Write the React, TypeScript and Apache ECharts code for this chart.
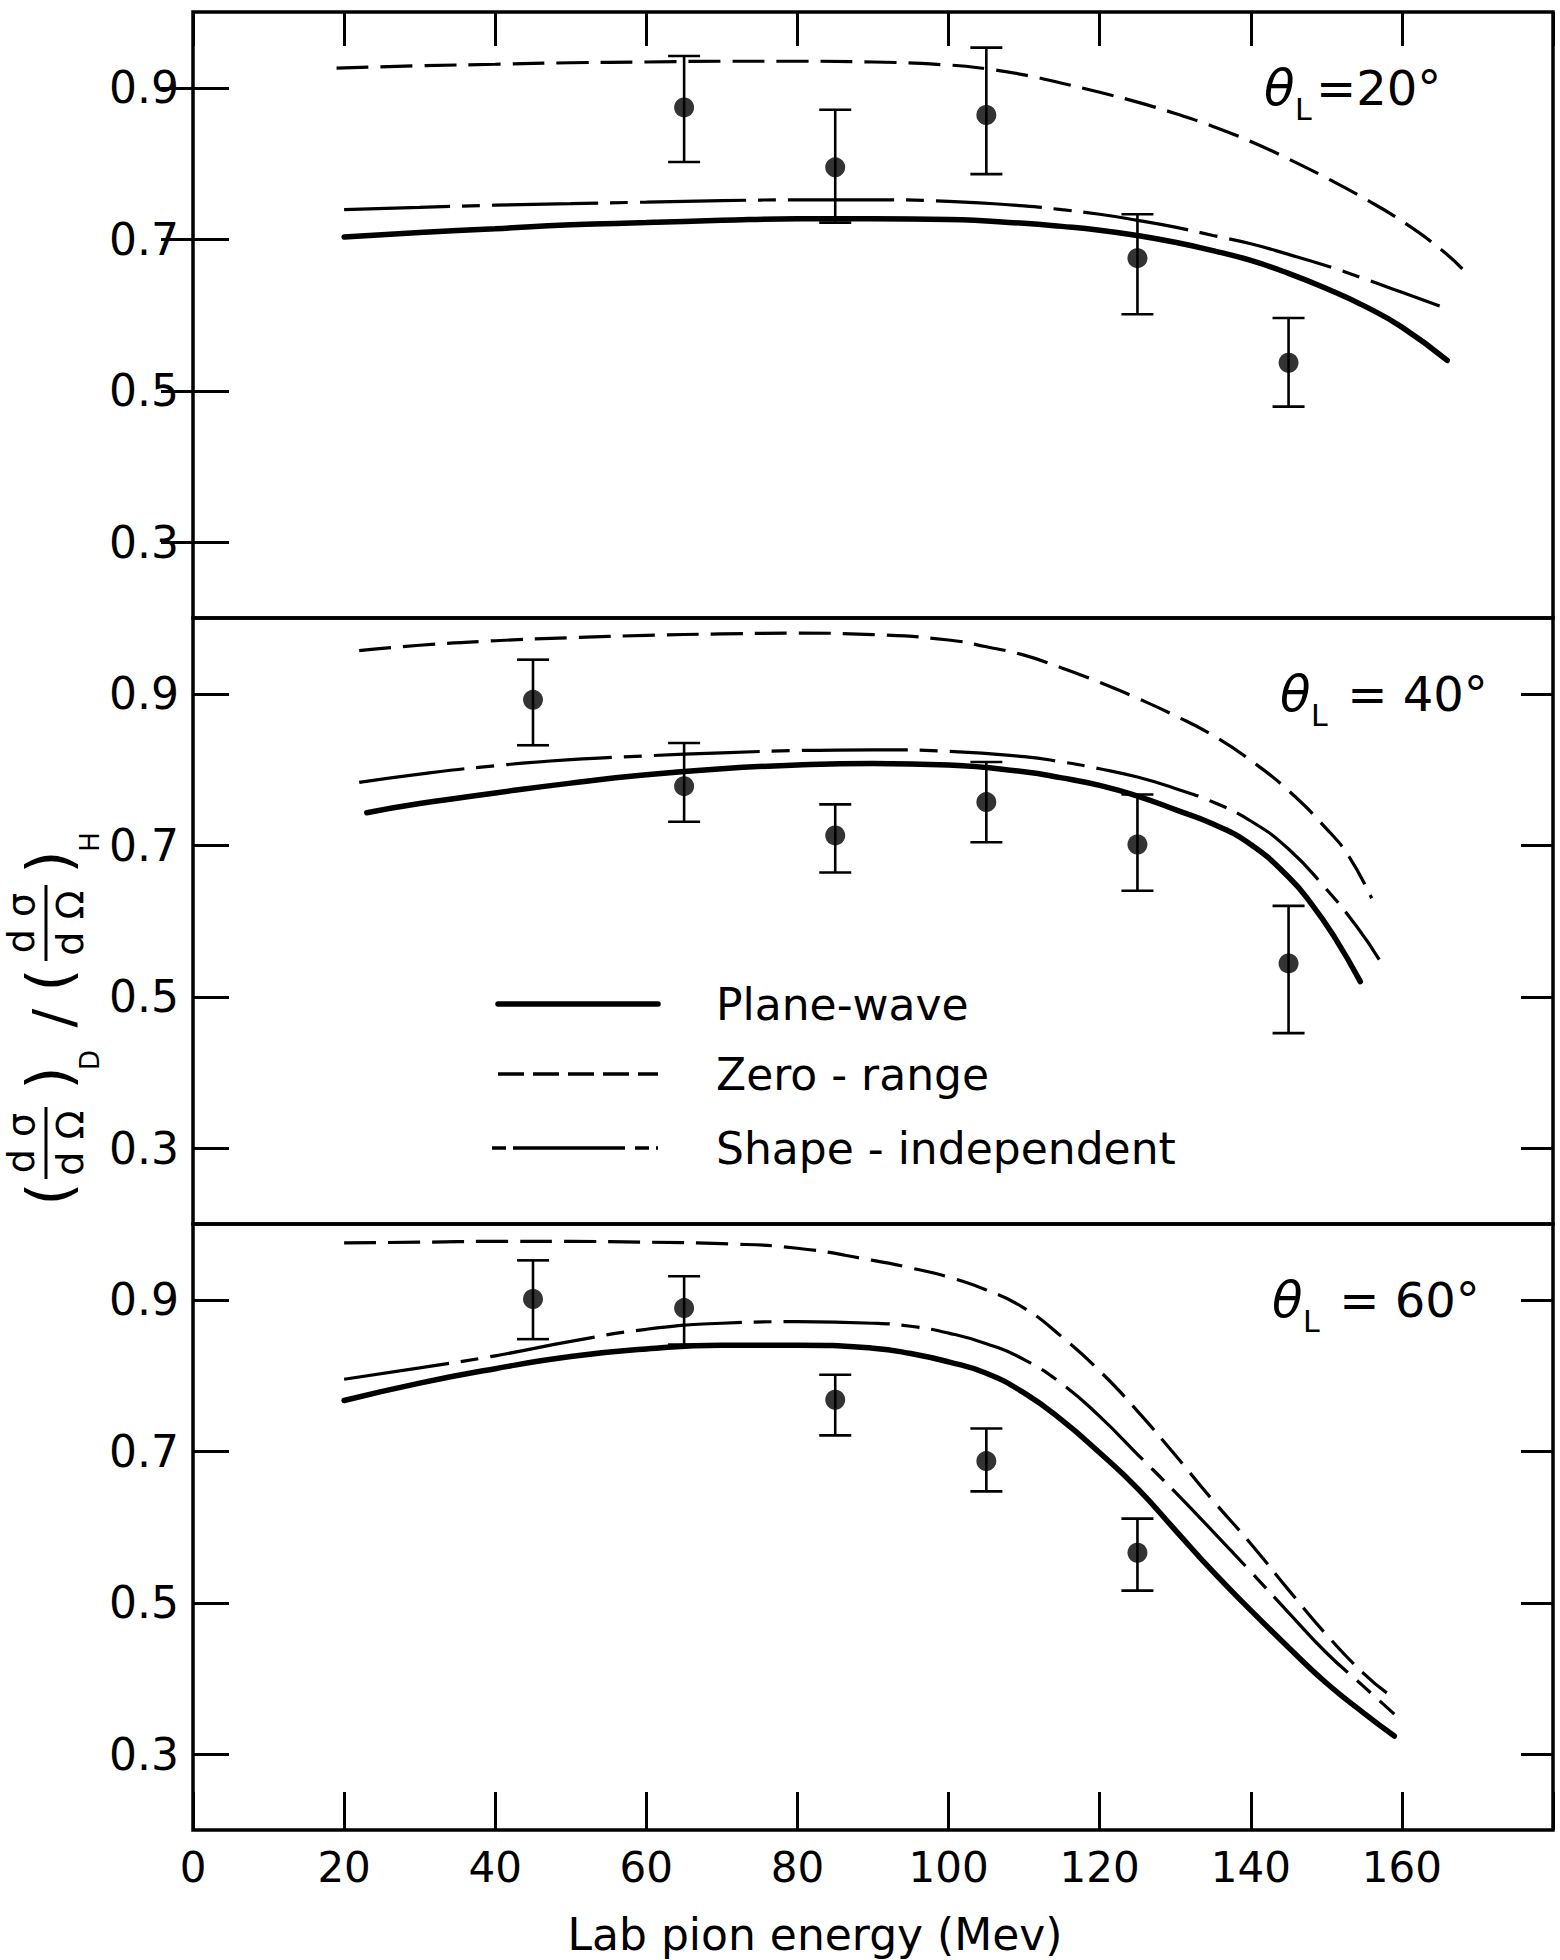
import React, { useEffect, useRef } from 'react';
import * as echarts from 'echarts';

// ---------- data ----------
const X_MIN = 0;
const X_MAX = 180;
const X_STEP = 20;
const Y_MIN = 0.2;
const Y_MAX = 1.0;
const Y_TICKS = [0.3, 0.5, 0.7, 0.9];

const MODEL_NAMES = ['Plane-wave', 'Zero - range', 'Shape - independent'];
const PANEL_LABELS = ['=20°', ' = 40°', ' = 60°'];
const X_TITLE = 'Lab pion energy (Mev)';

// theta_L = 20 deg
const pw20E = [20, 30, 40, 50, 60, 70, 80, 90, 100, 110, 115, 120, 125, 130, 135, 140, 145, 150, 155, 160, 166];
const pw20R = [0.703, 0.709, 0.714, 0.719, 0.722, 0.725, 0.727, 0.727, 0.726, 0.721, 0.717, 0.712, 0.705, 0.696, 0.685, 0.672, 0.655, 0.635, 0.612, 0.584, 0.54];
const zr20E = [19, 30, 40, 50, 60, 70, 80, 90, 100, 105, 110, 115, 120, 125, 130, 135, 140, 145, 150, 155, 160, 165, 168];
const zr20R = [0.926, 0.929, 0.931, 0.933, 0.934, 0.935, 0.935, 0.934, 0.93, 0.925, 0.917, 0.906, 0.894, 0.881, 0.866, 0.849, 0.829, 0.806, 0.781, 0.754, 0.724, 0.688, 0.661];
const si20E = [20, 30, 40, 50, 60, 70, 80, 90, 100, 110, 115, 120, 125, 130, 135, 140, 145, 150, 155, 160, 165];
const si20R = [0.739, 0.742, 0.745, 0.747, 0.749, 0.751, 0.752, 0.752, 0.75, 0.744, 0.739, 0.733, 0.725, 0.716, 0.705, 0.694, 0.68, 0.665, 0.648, 0.63, 0.612];
const exp20E = [65, 85, 105, 125, 145];
const exp20R = [0.874, 0.795, 0.864, 0.675, 0.537];
const exp20Lo = [0.802, 0.722, 0.786, 0.601, 0.479];
const exp20Hi = [0.942, 0.871, 0.953, 0.733, 0.596];

// theta_L = 40 deg
const pw40E = [23, 30, 40, 50, 60, 70, 80, 90, 100, 110, 115, 120, 125, 130, 135, 140, 145, 148, 151, 154.5];
const pw40R = [0.743, 0.755, 0.769, 0.782, 0.793, 0.801, 0.806, 0.808, 0.806, 0.797, 0.789, 0.779, 0.765, 0.747, 0.728, 0.701, 0.658, 0.623, 0.58, 0.52];
const zr40E = [22, 30, 40, 50, 60, 70, 80, 90, 100, 105, 110, 115, 120, 125, 130, 135, 140, 145, 150, 153, 156];
const zr40R = [0.957, 0.964, 0.97, 0.974, 0.977, 0.979, 0.98, 0.978, 0.971, 0.962, 0.951, 0.934, 0.915, 0.894, 0.871, 0.845, 0.812, 0.772, 0.722, 0.685, 0.63];
const si40E = [22, 30, 40, 50, 60, 70, 80, 90, 100, 110, 115, 120, 125, 130, 135, 140, 145, 150, 154, 157];
const si40R = [0.783, 0.794, 0.805, 0.813, 0.818, 0.822, 0.825, 0.826, 0.824, 0.817, 0.81, 0.801, 0.79, 0.775, 0.757, 0.732, 0.695, 0.642, 0.593, 0.549];
const exp40E = [45, 65, 85, 105, 125, 145];
const exp40R = [0.892, 0.778, 0.713, 0.757, 0.701, 0.544];
const exp40Lo = [0.832, 0.731, 0.664, 0.704, 0.64, 0.452];
const exp40Hi = [0.945, 0.835, 0.754, 0.81, 0.767, 0.62];

// theta_L = 60 deg
const pw60E = [20, 30, 40, 50, 60, 70, 80, 90, 95, 100, 105, 110, 115, 120, 125, 130, 135, 140, 145, 150, 155, 159];
const pw60R = [0.767, 0.79, 0.809, 0.825, 0.835, 0.84, 0.84, 0.836, 0.829, 0.818, 0.803, 0.777, 0.741, 0.698, 0.651, 0.596, 0.541, 0.49, 0.441, 0.394, 0.354, 0.324];
const zr60E = [20, 30, 40, 50, 60, 70, 80, 90, 95, 100, 105, 110, 115, 120, 125, 130, 135, 140, 145, 150, 155, 158];
const zr60R = [0.975, 0.976, 0.977, 0.977, 0.976, 0.974, 0.968, 0.952, 0.942, 0.93, 0.913, 0.889, 0.851, 0.806, 0.753, 0.695, 0.635, 0.578, 0.517, 0.458, 0.406, 0.381];
const si60E = [20, 30, 40, 50, 60, 70, 80, 90, 95, 100, 105, 110, 115, 120, 125, 130, 135, 140, 145, 150, 155, 159];
const si60R = [0.795, 0.81, 0.826, 0.845, 0.861, 0.869, 0.871, 0.869, 0.865, 0.856, 0.842, 0.821, 0.789, 0.746, 0.696, 0.646, 0.594, 0.541, 0.487, 0.434, 0.389, 0.353];
const exp60E = [45, 65, 85, 105, 125];
const exp60R = [0.901, 0.889, 0.768, 0.687, 0.566];
const exp60Lo = [0.848, 0.841, 0.721, 0.647, 0.516];
const exp60Hi = [0.952, 0.931, 0.801, 0.73, 0.611];

// ---------- layout ----------
const FONT = 'DejaVu Sans';
const GRID_LEFT = 193;
const GRID_WIDTH = 1360;
const GRID_TOP = 12;
const PANEL_H = 606;

const zip2 = (a: number[], b: number[]) => a.map((v, i) => [v, b[i]]);
const zip3 = (a: number[], b: number[], c: number[]) => a.map((v, i) => [v, b[i], c[i]]);

const PANELS = [
  { pw: zip2(pw20E, pw20R), zr: zip2(zr20E, zr20R), si: zip2(si20E, si20R), pts: zip2(exp20E, exp20R), err: zip3(exp20E, exp20Lo, exp20Hi) },
  { pw: zip2(pw40E, pw40R), zr: zip2(zr40E, zr40R), si: zip2(si40E, si40R), pts: zip2(exp40E, exp40R), err: zip3(exp40E, exp40Lo, exp40Hi) },
  { pw: zip2(pw60E, pw60R), zr: zip2(zr60E, zr60R), si: zip2(si60E, si60R), pts: zip2(exp60E, exp60R), err: zip3(exp60E, exp60Lo, exp60Hi) },
];

const PW_STYLE = { color: '#000', width: 5.5, type: 'solid' as any, cap: 'round' as any };
const ZR_STYLE = { color: '#000', width: 3.2, type: [32, 12] as any, cap: 'butt' as any };
const SI_STYLE = { color: '#000', width: 3.2, type: [106, 12, 18, 12] as any, cap: 'butt' as any };

function txt(x: number, y: number, text: string, size: number, extra: any = {}) {
  return {
    type: 'text',
    x,
    y,
    silent: true,
    style: {
      text,
      fontSize: size,
      fontFamily: FONT,
      fill: '#000',
      align: extra.align || 'left',
      textAlign: extra.align || 'left',
      verticalAlign: extra.va || 'middle',
      textVerticalAlign: extra.va || 'middle',
      fontStyle: extra.fontStyle || 'normal',
    },
  };
}

function fraction(cx: number, half: number) {
  return [
    txt(cx, -6, 'd σ', 38, { align: 'center', va: 'bottom' }),
    { type: 'line', silent: true, shape: { x1: cx - half, y1: 0, x2: cx + half, y2: 0 }, style: { stroke: '#000', lineWidth: 3 } },
    txt(cx, 5, 'd Ω', 38, { align: 'center', va: 'top' }),
  ];
}

function buildOption() {
  const grid = PANELS.map((_, i) => ({
    left: GRID_LEFT,
    width: GRID_WIDTH,
    top: GRID_TOP + i * PANEL_H,
    height: PANEL_H,
    show: true,
    borderColor: '#000',
    borderWidth: 3.5,
    backgroundColor: 'transparent',
  }));

  const xAxis: any[] = PANELS.map((_, i) => ({
    gridIndex: i,
    type: 'value',
    min: X_MIN,
    max: X_MAX,
    interval: X_STEP,
    position: 'bottom',
    axisLine: { show: false },
    splitLine: { show: false },
    axisTick: { show: i === 2, inside: true, length: 38, lineStyle: { color: '#000', width: 3 } },
    axisLabel: {
      show: i === 2,
      color: '#000',
      fontSize: 42,
      fontFamily: FONT,
      margin: 16,
      formatter: (v: number) => (v >= X_MAX ? '' : String(v)),
    },
  }));
  xAxis.push({
    gridIndex: 0,
    type: 'value',
    min: X_MIN,
    max: X_MAX,
    interval: X_STEP,
    position: 'top',
    axisLine: { show: false },
    splitLine: { show: false },
    axisTick: { show: true, inside: true, length: 34, lineStyle: { color: '#000', width: 3 } },
    axisLabel: { show: false },
  });

  const yAxis: any[] = [];
  PANELS.forEach((_, i) => {
    yAxis.push({
      gridIndex: i,
      type: 'value',
      min: Y_MIN,
      max: Y_MAX,
      position: 'left',
      axisLine: { show: false },
      splitLine: { show: false },
      axisTick: { show: true, inside: true, length: 36, customValues: Y_TICKS, lineStyle: { color: '#000', width: 3 } },
      axisLabel: {
        show: true,
        customValues: Y_TICKS,
        color: '#000',
        fontSize: 44,
        fontFamily: FONT,
        margin: 14,
        formatter: (v: number) => v.toFixed(1),
      },
    });
  });
  PANELS.forEach((_, i) => {
    yAxis.push({
      gridIndex: i,
      type: 'value',
      min: Y_MIN,
      max: Y_MAX,
      position: 'right',
      axisLine: { show: false },
      splitLine: { show: false },
      axisTick: { show: true, inside: true, length: 32, customValues: Y_TICKS, lineStyle: { color: '#000', width: 3 } },
      axisLabel: { show: false },
    });
  });

  const series: any[] = [];
  PANELS.forEach((p, i) => {
    const common = { xAxisIndex: i, yAxisIndex: i, showSymbol: false, symbol: 'none', smooth: 0.5, silent: true, animation: false };
    series.push({ type: 'line', name: MODEL_NAMES[0], data: p.pw, lineStyle: PW_STYLE, z: 4, ...common });
    series.push({ type: 'line', name: MODEL_NAMES[1], data: p.zr, lineStyle: ZR_STYLE, z: 3, ...common });
    series.push({ type: 'line', name: MODEL_NAMES[2], data: p.si, lineStyle: SI_STYLE, z: 3, ...common });
    series.push({
      type: 'custom',
      xAxisIndex: i,
      yAxisIndex: i,
      data: p.err,
      silent: true,
      z: 5,
      renderItem: (_params: any, api: any) => {
        const x = api.value(0);
        const lo = api.coord([x, api.value(1)]);
        const hi = api.coord([x, api.value(2)]);
        const w = 16;
        const st = { stroke: '#000', lineWidth: 2.6 };
        return {
          type: 'group',
          children: [
            { type: 'line', shape: { x1: lo[0], y1: lo[1], x2: hi[0], y2: hi[1] }, style: st },
            { type: 'line', shape: { x1: lo[0] - w, y1: lo[1], x2: lo[0] + w, y2: lo[1] }, style: st },
            { type: 'line', shape: { x1: hi[0] - w, y1: hi[1], x2: hi[0] + w, y2: hi[1] }, style: st },
          ],
        };
      },
    });
    series.push({
      type: 'scatter',
      xAxisIndex: i,
      yAxisIndex: i,
      data: p.pts,
      symbol: 'circle',
      symbolSize: 20,
      itemStyle: { color: '#000' },
      silent: true,
      z: 6,
    });
  });

  // annotations θ_L
  const annX = [1264, 1280, 1272];
  const graphic: any[] = [];
  PANELS.forEach((_, i) => {
    const cy = GRID_TOP + i * PANEL_H + 76;
    const x0 = annX[i];
    graphic.push(txt(x0, cy, 'θ', 50, { fontStyle: 'italic' }));
    graphic.push(txt(x0 + 31, cy + 21, 'L', 30));
    graphic.push(txt(x0 + 52, cy, PANEL_LABELS[i], 48));
  });

  // legend
  const legY = [1004, 1074, 1148];
  graphic.push({ type: 'line', silent: true, shape: { x1: 498, y1: legY[0], x2: 658, y2: legY[0] }, style: { stroke: '#000', lineWidth: 5.5, lineCap: 'round' } });
  graphic.push({ type: 'line', silent: true, shape: { x1: 498, y1: legY[1], x2: 658, y2: legY[1] }, style: { stroke: '#000', lineWidth: 3.5, lineDash: [26, 9] } });
  graphic.push({ type: 'line', silent: true, shape: { x1: 492, y1: legY[2], x2: 658, y2: legY[2] }, style: { stroke: '#000', lineWidth: 3.5, lineDash: [14, 7, 112, 10] } });
  MODEL_NAMES.forEach((n, k) => graphic.push(txt(716, legY[k], n, 44)));

  // x-axis title
  graphic.push(txt(815, 1934, X_TITLE, 44, { align: 'center' }));

  // y-axis title (rotated): (dσ/dΩ)_D / (dσ/dΩ)_H
  const yTitle = [
    txt(-178, 3, '(', 60, { align: 'center' }),
    ...fraction(-127, 36),
    txt(-62, 3, ')', 60, { align: 'center' }),
    txt(-44, 44, 'D', 26, { align: 'center' }),
    txt(-2, 6, '/', 56, { align: 'center' }),
    txt(36, 3, '(', 60, { align: 'center' }),
    ...fraction(93, 38),
    txt(154, 3, ')', 60, { align: 'center' }),
    txt(174, 44, 'H', 26, { align: 'center' }),
  ];
  graphic.push({ type: 'group', x: 46, y: 1016, rotation: Math.PI / 2, children: yTitle });

  return {
    animation: false,
    backgroundColor: '#fff',
    grid,
    xAxis,
    yAxis,
    series,
    graphic,
  };
}

export default function App() {
  const ref = useRef<HTMLDivElement>(null);
  useEffect(() => {
    if (!ref.current) return;
    const chart = echarts.init(ref.current, null, { renderer: 'svg' });
    chart.setOption(buildOption() as any);
    return () => chart.dispose();
  }, []);
  return (
    <div
      ref={ref}
      style={{ position: 'absolute', left: 0, top: 0, width: 1560, height: 1960, background: '#fff' }}
    />
  );
}
